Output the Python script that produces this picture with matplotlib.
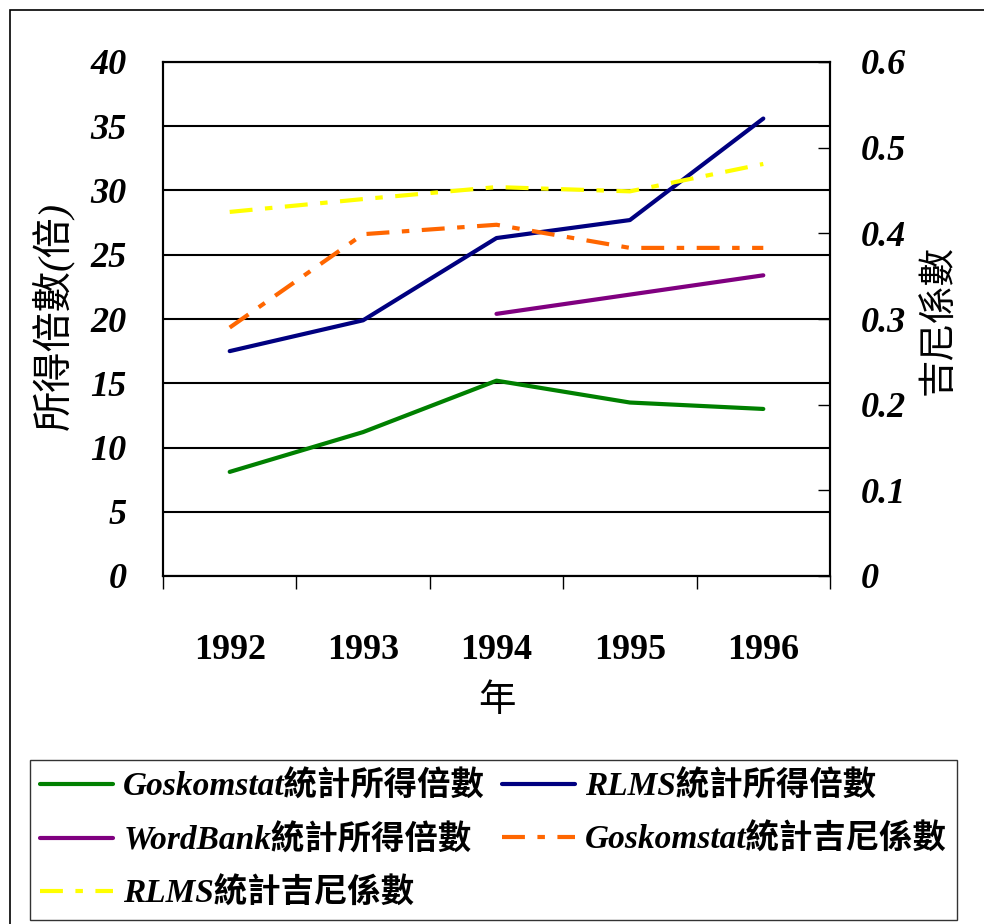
import matplotlib
matplotlib.use("Agg")
import matplotlib.pyplot as plt
import numpy as np

plt.rcParams['font.family'] = ['Liberation Serif', 'Noto Sans CJK TC']

years = ['1992', '1993', '1994', '1995', '1996']
gosk_ratio = [8.1, 11.2, 15.2, 13.5, 13.0]
rlms_ratio = [17.5, 19.9, 26.3, 27.7, 35.6]
wb_years = ['1994', '1995', '1996']
wb_ratio = [20.4, 21.9, 23.4]
gosk_gini = [0.290, 0.399, 0.410, 0.383, 0.383]
rlms_gini = [0.425, 0.440, 0.454, 0.449, 0.481]

left_ticks = [0, 5, 10, 15, 20, 25, 30, 35, 40]
right_ticks = [0, 0.1, 0.2, 0.3, 0.4, 0.5, 0.6]

x = np.arange(len(years))
wb_x = [years.index(y) for y in wb_years]

fig = plt.figure(figsize=(9.84, 9.24), dpi=100)
ax = fig.add_axes([163/984, 1-576/924, (830-163)/984, (576-62)/924])
ax2 = ax.twinx()

lw = 3
dash = (5.5, 3, 1.8, 3)
l1, = ax.plot(x, gosk_ratio, color='#008000', lw=lw, solid_capstyle='round',
              label='Goskomstat統計所得倍數')
l2, = ax.plot(x, rlms_ratio, color='#000080', lw=lw, solid_capstyle='round',
              label='RLMS統計所得倍數')
l3, = ax.plot(wb_x, wb_ratio, color='#800080', lw=lw, solid_capstyle='round',
              label='WordBank統計所得倍數')
l4, = ax2.plot(x, gosk_gini, color='#FF6600', lw=lw, dashes=dash,
               label='Goskomstat統計吉尼係數')
l5, = ax2.plot(x, rlms_gini, color='#FFFF00', lw=lw, dashes=dash,
               label='RLMS統計吉尼係數')

ax.set_xlim(-0.5, len(years) - 0.5)
ax.set_ylim(0, 40)
ax2.set_ylim(0, 0.6)

ax.set_yticks(left_ticks)
ax.set_yticklabels([str(t) for t in left_ticks])
ax2.set_yticks(right_ticks)
ax2.set_yticklabels(['0' if t == 0 else f'{t:.1f}' for t in right_ticks])

ax.yaxis.grid(True, color='black', lw=1.5)
ax.set_axisbelow(True)
ax.tick_params(axis='y', length=0, pad=26)
ax2.tick_params(axis='y', direction='in', length=9, width=1, color='black', pad=22)

ax.set_xticks(x)
ax.set_xticklabels(years)
ax.set_xticks(np.arange(-0.5, len(years)), minor=True)
ax.tick_params(axis='x', which='major', length=0, pad=42)
ax.tick_params(axis='x', which='minor', length=9, width=1, direction='out')

for lab in ax.get_yticklabels() + ax2.get_yticklabels():
    lab.set_fontsize(26)
    lab.set_style('italic')
    lab.set_fontweight('bold')
for lab in ax.get_xticklabels():
    lab.set_fontsize(26)
    lab.set_fontweight('bold')

for a in (ax, ax2):
    for s in a.spines.values():
        s.set_linewidth(1.5)
        s.set_color('black')

fig.text(53/984, 1-316/924, '所得倍數(倍)', rotation=90, ha='center', va='center',
         fontsize=29, style='italic')
fig.text(940/984, 1-320/924, '吉尼係數', rotation=90, ha='center', va='center',
         fontsize=27, style='italic')
fig.text(497/984, 1-702/924, '年', ha='center', va='center',
         fontsize=27, style='italic')

# figure frame
fig.patches.append(plt.Rectangle((10/984, -0.01), 1.0, 1-10/924+0.01,
                                 transform=fig.transFigure, fill=False,
                                 edgecolor='black', lw=1.2))

leg = fig.legend(handles=[l1, l3, l5, l2, l4], ncol=2,
                 loc='upper left', bbox_to_anchor=(30/984, 1-760/924),
                 frameon=True, fancybox=False, edgecolor='black',
                 handlelength=2.2, handletextpad=0.3, columnspacing=0.5,
                 labelspacing=0.65, borderpad=0.3, borderaxespad=0,
                 prop={'size': 24, 'style': 'italic', 'weight': 'bold'})
leg.get_frame().set_linewidth(1.0)

fig.savefig('out.png', dpi=100)
